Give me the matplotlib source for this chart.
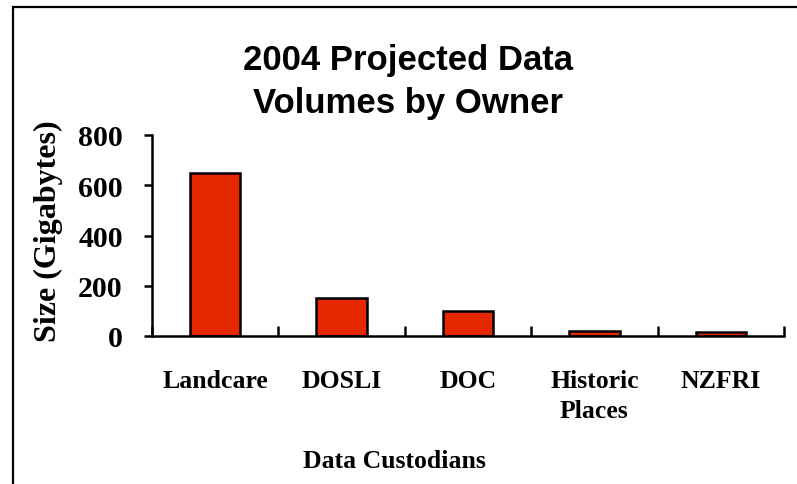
import matplotlib.pyplot as plt
from matplotlib.patches import Rectangle

# data
owners = ['Landcare', 'DOSLI', 'DOC', 'Historic\nPlaces', 'NZFRI']
sizes_gb = [650, 150, 100, 20, 15]
y_ticks = [0, 200, 400, 600, 800]

serif = ['Liberation Serif', 'DejaVu Serif']
sans = ['Liberation Sans', 'DejaVu Sans']

fig = plt.figure(figsize=(7.97, 4.85), dpi=100)

# outer frame (runs off the right and bottom edges)
fig.patches.append(Rectangle((13 / 797, -0.05), 1.0, 1 - 8 / 485 + 0.05,
                             transform=fig.transFigure, fill=False,
                             edgecolor='black', linewidth=1.6))

ax = fig.add_axes([152 / 797, 1 - 337 / 485, (784 - 152) / 797, (337 - 136) / 485])

x = range(len(owners))
ax.bar(x, sizes_gb, width=0.4, color='#E62800', edgecolor='black', linewidth=1.8)

ax.set_xlim(-0.5, len(owners) - 0.5)
ax.set_ylim(0, 800)

for s in ['top', 'right']:
    ax.spines[s].set_visible(False)
for s in ['left', 'bottom']:
    ax.spines[s].set_linewidth(1.8)

ax.set_yticks(y_ticks)
ax.set_yticklabels([str(v) for v in y_ticks], fontfamily=serif,
                   fontweight='bold', fontsize=21.5)
ax.tick_params(axis='y', direction='out', length=6, width=1.8, pad=15)

# category boundary ticks (major, inward) and labels on minor ticks
ax.set_xticks([i - 0.5 for i in range(len(owners) + 1)])
ax.set_xticklabels([])
ax.tick_params(axis='x', which='major', direction='in', length=7, width=1.8)
ax.set_xticks(list(x), minor=True)
ax.set_xticklabels(owners, minor=True, fontfamily=serif, fontweight='bold',
                   fontsize=18.5, linespacing=1.35)
ax.tick_params(axis='x', which='minor', length=0, pad=24)

fig.text(48 / 797, 1 - 231 / 485, 'Size (Gigabytes)', rotation=90,
         ha='center', va='center', fontfamily=serif, fontweight='bold',
         fontsize=23)
fig.text(394 / 797, 1 - 462 / 485, 'Data Custodians', ha='center',
         va='center', fontfamily=serif, fontweight='bold', fontsize=18.5)
fig.text(408 / 797, 1 - 82 / 485, '2004 Projected Data\nVolumes by Owner',
         ha='center', va='center', fontfamily=sans, fontweight='bold',
         fontsize=25, linespacing=1.35)

fig.savefig('out.png', dpi=100)
